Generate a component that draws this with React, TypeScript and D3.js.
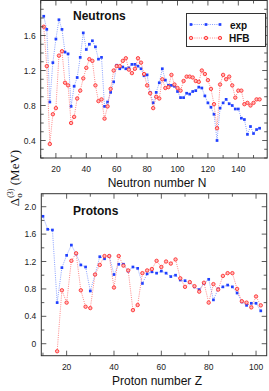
import React from "react";
import * as d3 from "d3";

// ---------- data ----------
const neutronN = [12,14,16,18,20,22,24,26,28,30,32,34,36,38,40,42,44,46,48,50,52,54,56,58,60,62,64,66,68,70,72,74,76,78,80,82,84,86,88,90,92,94,96,98,100,102,104,106,108,110,112,114,116,118,120,122,124,126,128,130,132,134,136,138,140,142,144,146,148,150,152,154];
const neutronExp = [1.82,1.67,0.84,1.29,1.56,1.78,1.67,1.41,1.39,0.79,1.02,1.12,1.35,1.63,1.44,1.50,1.54,1.47,1.33,1.35,0.79,0.84,0.95,1.07,1.26,1.22,1.24,1.22,1.23,1.27,1.27,1.25,1.22,1.14,1.15,0.95,0.83,0.95,1.06,1.22,1.09,1.03,1.03,1.02,0.96,0.89,0.89,0.94,0.93,0.96,0.97,1.01,1.00,0.91,0.83,0.78,0.70,0.40,0.77,0.83,0.87,0.82,0.80,0.76,0.76,0.655,0.64,0.47,0.56,0.48,0.525,0.54];
const neutronHFB = [1.70,1.25,0.36,0.70,0.77,1.37,1.42,1.06,1.03,0.60,0.67,0.88,0.97,1.11,1.23,1.33,1.31,1.03,0.85,0.87,0.65,0.79,0.99,1.20,1.25,1.25,1.31,1.34,1.21,1.17,1.22,1.34,1.29,1.16,1.03,0.94,0.77,0.90,0.88,1.10,1.00,1.01,1.15,1.04,1.00,0.97,1.08,1.13,1.13,1.12,1.08,1.07,1.20,1.16,1.09,0.99,0.815,0.54,1.04,1.15,1.10,1.13,1.03,0.89,0.97,0.97,0.815,0.83,0.80,0.83,0.87,0.87];

const protonZ = [10,12,14,16,18,20,22,24,26,28,30,32,34,36,38,40,42,44,46,48,50,52,54,56,58,60,62,64,66,68,70,72,74,76,78,80,82,84,86,88,90,92,94,96,98,100,102];
const protonExp = [1.86,1.67,1.66,0.60,1.11,1.29,1.44,1.31,1.15,1.12,0.77,1.01,1.27,1.24,1.28,1.01,1.16,1.16,1.06,1.12,1.10,0.88,1.02,1.05,1.03,1.06,1.03,0.98,1.00,0.93,0.92,0.89,0.83,0.79,0.88,0.94,0.64,0.80,0.83,0.856,0.83,0.74,0.61,0.56,0.59,0.59,0.48];
const protonHFBZ = [16,18,20,22,24,26,28,30,32,34,36,38,40,42,44,46,48,50,52,54,56,58,60,62,64,66,68,70,72,74,76,78,80,82,84,86,88,90,92,94,96,98,100,102];
const protonHFB = [-0.11,0.78,0.60,1.21,1.32,0.78,0.54,0.52,1.01,1.15,1.28,1.28,0.82,1.28,1.14,1.07,0.49,0.565,1.03,1.07,1.09,1.21,1.12,1.20,1.17,1.23,0.955,0.83,0.90,0.84,0.76,0.89,0.60,0.87,0.79,0.99,1.03,1.03,0.80,0.62,0.60,0.53,0.69,0.56];

const topXTicks = [20,40,60,80,100,120,140];
const topYTicks = [0.4,0.8,1.2,1.6];
const botXTicks = [20,40,60,80,100];
const botYTicks = [0,0.4,0.8,1.2,1.6,2.0];

const BLUE = "#2040ff";
const BLUE_LINE = "#6a86ff";
const RED = "#ff3030";
const RED_LINE = "#ff6a6a";
const AX = "#333";
const FONT = "Liberation Sans, Arial, Helvetica, sans-serif";

type Panel = {
  x: d3.ScaleLinear<number, number>;
  y: d3.ScaleLinear<number, number>;
  xMajor: number[]; xMinorStep: number;
  yMajor: number[]; yMinorStep: number;
};

function Frame({ p }: { p: Panel }) {
  const [x0, x1] = p.x.range();
  const [y0, y1] = p.y.range();
  const [dx0, dx1] = p.x.domain();
  const [dy0, dy1] = p.y.domain();
  const xMinor: number[] = [];
  for (let v = Math.ceil(dx0 / p.xMinorStep) * p.xMinorStep; v <= dx1 + 1e-9; v += p.xMinorStep) xMinor.push(+v.toFixed(4));
  const yMinor: number[] = [];
  for (let v = Math.ceil(dy0 / p.yMinorStep - 1e-9) * p.yMinorStep; v <= dy1 + 1e-9; v += p.yMinorStep) yMinor.push(+v.toFixed(4));
  const isMaj = (arr: number[], v: number) => arr.some((a) => Math.abs(a - v) < 1e-6);
  const els: React.ReactNode[] = [];
  xMinor.forEach((v, i) => {
    const L = isMaj(p.xMajor, v) ? 5 : 3;
    const xx = p.x(v);
    els.push(<line key={"xb" + i} x1={xx} x2={xx} y1={y0} y2={y0 - L} stroke={AX} strokeWidth={0.8} />);
    els.push(<line key={"xt" + i} x1={xx} x2={xx} y1={y1} y2={y1 + L} stroke={AX} strokeWidth={0.8} />);
  });
  yMinor.forEach((v, i) => {
    const L = isMaj(p.yMajor, v) || Math.abs(v - 2.0) < 1e-6 ? 5 : 3;
    const yy = p.y(v);
    els.push(<line key={"yl" + i} x1={x0} x2={x0 + L} y1={yy} y2={yy} stroke={AX} strokeWidth={0.8} />);
    els.push(<line key={"yr" + i} x1={x1} x2={x1 - L} y1={yy} y2={yy} stroke={AX} strokeWidth={0.8} />);
  });
  return (
    <g>
      <rect x={x0} y={y1} width={x1 - x0} height={y0 - y1} fill="none" stroke={AX} strokeWidth={1} />
      {els}
      {p.xMajor.map((v) => (
        <text key={"xl" + v} x={p.x(v)} y={y0 + 14} textAnchor="middle" fontSize={8.5} fontFamily={FONT} fill="#222">{v}</text>
      ))}
      {p.yMajor.map((v) => (
        <text key={"yl" + v} x={x0 - 5} y={p.y(v) + 3} textAnchor="end" fontSize={8.5} fontFamily={FONT} fill="#222">{v === 0 ? "0" : v.toFixed(1)}</text>
      ))}
    </g>
  );
}

function Series({ xs, ys, sx, sy, kind }: { xs: number[]; ys: number[]; sx: any; sy: any; kind: "exp" | "hfb" }) {
  const line = d3.line<number>().x((_, i) => sx(xs[i])).y((d) => sy(d));
  const path = line(ys) || "";
  return (
    <g>
      <path d={path} fill="none" stroke={kind === "exp" ? BLUE_LINE : RED_LINE} strokeWidth={0.8} strokeDasharray="1 1.2" />
      {ys.map((v, i) =>
        kind === "exp" ? (
          <rect key={i} x={sx(xs[i]) - 1.35} y={sy(v) - 1.35} width={2.7} height={2.7} fill={BLUE} />
        ) : (
          <circle key={i} cx={sx(xs[i])} cy={sy(v)} r={1.7} fill="#ffb8b8" stroke={RED} strokeWidth={0.9} />
        )
      )}
    </g>
  );
}

export default function App() {
  const topP: Panel = {
    x: d3.scaleLinear().domain([10, 159]).range([40.7, 267.2]),
    y: d3.scaleLinear().domain([0.2, 2.0]).range([158, 0.5]),
    xMajor: topXTicks, xMinorStep: 10,
    yMajor: topYTicks, yMinorStep: 0.1,
  };
  const botP: Panel = {
    x: d3.scaleLinear().domain([9.3, 104.5]).range([41.3, 266.7]),
    y: d3.scaleLinear().domain([-0.175, 2.19]).range([355.7, 193.7]),
    xMajor: botXTicks, xMinorStep: 10,
    yMajor: botYTicks, yMinorStep: 0.2,
  };
  return (
    <svg width={269} height={391} style={{ position: "absolute", left: 0, top: 0, background: "#fff" }}>
      <rect width={269} height={391} fill="#fff" />
      {/* top panel */}
      <Series xs={neutronN} ys={neutronExp} sx={topP.x} sy={topP.y} kind="exp" />
      <Series xs={neutronN} ys={neutronHFB} sx={topP.x} sy={topP.y} kind="hfb" />
      <Frame p={topP} />
      <text x={73} y={19.5} fontSize={12} fontWeight="bold" fontFamily={FONT} fill="#111">Neutrons</text>
      {/* legend */}
      <rect x={186.5} y={13.5} width={79} height={33} fill="#fff" stroke={AX} strokeWidth={1} />
      <line x1={190} x2={221} y1={24.5} y2={24.5} stroke={BLUE_LINE} strokeWidth={0.8} strokeDasharray="1 1.2" />
      {[191, 206, 220].map((x) => (
        <rect key={x} x={x - 1.35} y={24.5 - 1.35} width={2.7} height={2.7} fill={BLUE} />
      ))}
      <text x={230} y={28.5} fontSize={10} fontWeight="bold" fontFamily={FONT} fill="#111">exp</text>
      <line x1={190} x2={221} y1={38} y2={38} stroke={RED_LINE} strokeWidth={0.8} strokeDasharray="1 1.2" />
      {[191, 206, 220].map((x) => (
        <circle key={x} cx={x} cy={38} r={1.7} fill="#ffb8b8" stroke={RED} strokeWidth={0.9} />
      ))}
      <text x={229} y={42} fontSize={10} fontWeight="bold" fontFamily={FONT} fill="#111">HFB</text>
      <text x={157} y={187} textAnchor="middle" fontSize={12} fontFamily={FONT} fill="#111">Neutron number N</text>

      {/* bottom panel */}
      <Series xs={protonZ} ys={protonExp} sx={botP.x} sy={botP.y} kind="exp" />
      <Series xs={protonHFBZ} ys={protonHFB} sx={botP.x} sy={botP.y} kind="hfb" />
      <Frame p={botP} />
      <text x={73} y={214.5} fontSize={12} fontWeight="bold" fontFamily={FONT} fill="#111">Protons</text>
      <text x={157} y={385} textAnchor="middle" fontSize={12} fontFamily={FONT} fill="#111">Proton number Z</text>

      {/* y label */}
      <text transform="translate(19,178) rotate(-90)" textAnchor="middle" fontSize={13} fontFamily="Liberation Serif, DejaVu Serif, serif" fill="#111">
        <tspan>Δ</tspan>
        <tspan fontSize={9} dy={3}>o</tspan>
        <tspan fontSize={8} dx={-4.5} dy={-9}>(3)</tspan>
        <tspan dy={6}> (MeV)</tspan>
      </text>
    </svg>
  );
}
